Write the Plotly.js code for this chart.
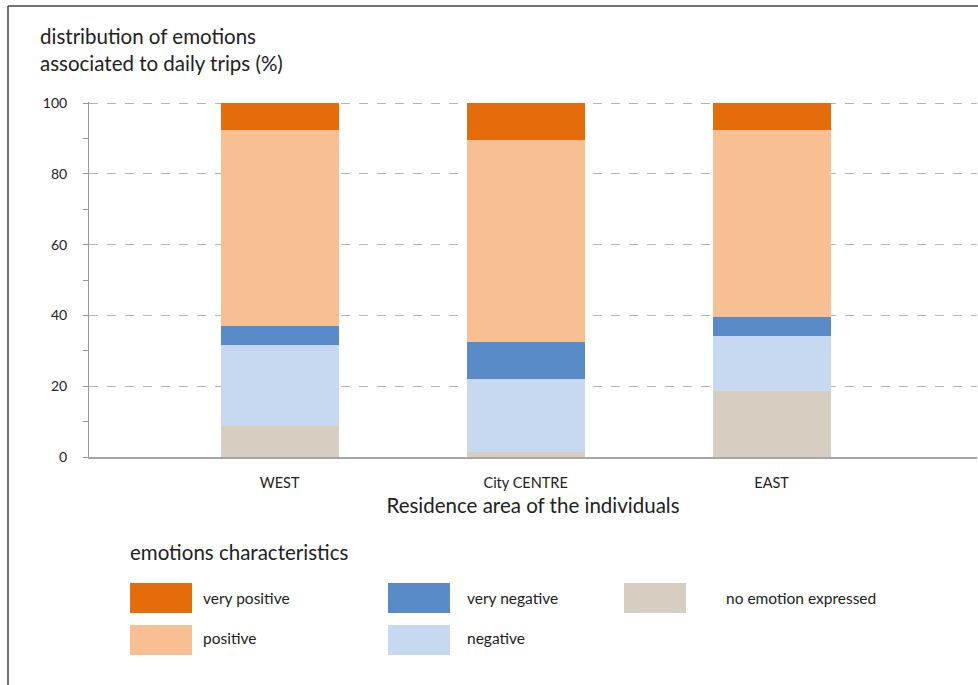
<!DOCTYPE html>
<html>
<head>
<meta charset="utf-8">
<script src="https://cdn.plot.ly/plotly-3.0.1.min.js"></script>
<style>html,body{margin:0;padding:0;background:#fff;}#chart{width:978px;height:685px;}</style>
</head>
<body>
<div id="chart"></div>
<script>
const categories = ["WEST", "City CENTRE", "EAST"];
const seriesNames = ["no emotion expressed", "negative", "very negative", "positive", "very positive"];
const noEmotion = [8.8, 1.5, 18.6];
const negative = [22.8, 20.6, 15.7];
const veryNegative = [5.4, 10.3, 5.2];
const positive = [55.4, 57.3, 52.9];
const veryPositive = [7.6, 10.3, 7.6];
const yTicks = [0, 20, 40, 60, 80, 100];

const colors = {
  "very positive": "#E46C0A",
  "positive": "#F8BF93",
  "very negative": "#588BC7",
  "negative": "#C6D9F0",
  "no emotion expressed": "#D8CDC1"
};
const values = {
  "no emotion expressed": noEmotion,
  "negative": negative,
  "very negative": veryNegative,
  "positive": positive,
  "very positive": veryPositive
};

const FONT = "Lato, 'Open Sans', sans-serif";
const L = 89, R = 977, T = 102, B = 457, WIDTH = 978, HEIGHT = 685;
const px = x => (x - L) / (R - L);
const py = y => (B - y) / (B - T);

const traces = seriesNames.map(n => ({
  type: "bar",
  name: n,
  x: categories,
  y: values[n],
  width: 0.48,
  marker: {color: colors[n], line: {width: 0}},
  hoverinfo: "x+y+name",
  showlegend: false
}));

// legend grid: [name, column, row]
const legendItems = [
  ["very positive", 0, 0], ["positive", 0, 1],
  ["very negative", 1, 0], ["negative", 1, 1],
  ["no emotion expressed", 2, 0]
];
const swatchX = [130, 388, 624];
const labelX = [203, 467, 726];
const rowTop = [583, 625];

const shapes = [];
const annotations = [];
legendItems.forEach(([n, c, r]) => {
  shapes.push({
    type: "rect", xref: "paper", yref: "paper",
    x0: px(swatchX[c]), x1: px(swatchX[c] + 62),
    y0: py(rowTop[r]), y1: py(rowTop[r] + 30),
    fillcolor: colors[n], line: {width: 0}
  });
  annotations.push({
    xref: "paper", yref: "paper", x: px(labelX[c] - 2), y: py(rowTop[r] + 15 - 2 * r),
    xanchor: "left", yanchor: "middle", showarrow: false,
    text: n, font: {family: FONT, size: 15.5, color: "#222"}
  });
});
annotations.push({
  xref: "paper", yref: "paper", x: px(128), y: py(552),
  xanchor: "left", yanchor: "middle", showarrow: false,
  text: "emotions characteristics", font: {family: FONT, size: 20.5, color: "#222"}
});
annotations.push({
  xref: "paper", yref: "paper", x: px(38), y: py(50),
  xanchor: "left", yanchor: "middle", align: "left", showarrow: false,
  text: "distribution of emotions<br>associated to daily trips (%)",
  font: {family: FONT, size: 20.5, color: "#222"}
});
// frame
shapes.push({type: "line", xref: "paper", yref: "paper", x0: px(8), x1: px(8), y0: py(6), y1: py(690), line: {color: "#444", width: 1.5}});
shapes.push({type: "line", xref: "paper", yref: "paper", x0: px(8), x1: px(980), y0: py(6), y1: py(6), line: {color: "#444", width: 1.5}});

const layout = {
  width: WIDTH, height: HEIGHT,
  margin: {l: L, r: WIDTH - R, t: T, b: HEIGHT - B, pad: 0},
  paper_bgcolor: "#fff", plot_bgcolor: "#fff",
  barmode: "stack",
  bargap: 0,
  showlegend: false,
  font: {family: FONT, color: "#222"},
  xaxis: {
    type: "category",
    range: [-0.775, 2.835],
    showline: true, linecolor: "#a6a6a6", linewidth: 2,
    ticks: "", showgrid: false, zeroline: false,
    tickfont: {family: FONT, size: 14.5, color: "#222"},
    ticklabelstandoff: 12,
    title: {text: "Residence area of the individuals", font: {family: FONT, size: 20.5, color: "#222"}, standoff: 8}
  },
  yaxis: {
    range: [0, 100.3],
    tickvals: yTicks, ticktext: yTicks.map(String),
    ticks: "outside", ticklen: 5, tickcolor: "#999", tickwidth: 1,
    minor: {dtick: 10, ticks: "outside", ticklen: 5, tickcolor: "#999", showgrid: false},
    showline: true, linecolor: "#999", linewidth: 1,
    showgrid: true, gridcolor: "#b5b5b5", griddash: "dash", gridwidth: 1,
    zeroline: false,
    tickfont: {family: FONT, size: 14, color: "#222"},
    ticklabelstandoff: 13
  },
  shapes: shapes,
  annotations: annotations
};

Plotly.newPlot("chart", traces, layout, {displayModeBar: false, staticPlot: true});
</script>
</body>
</html>
